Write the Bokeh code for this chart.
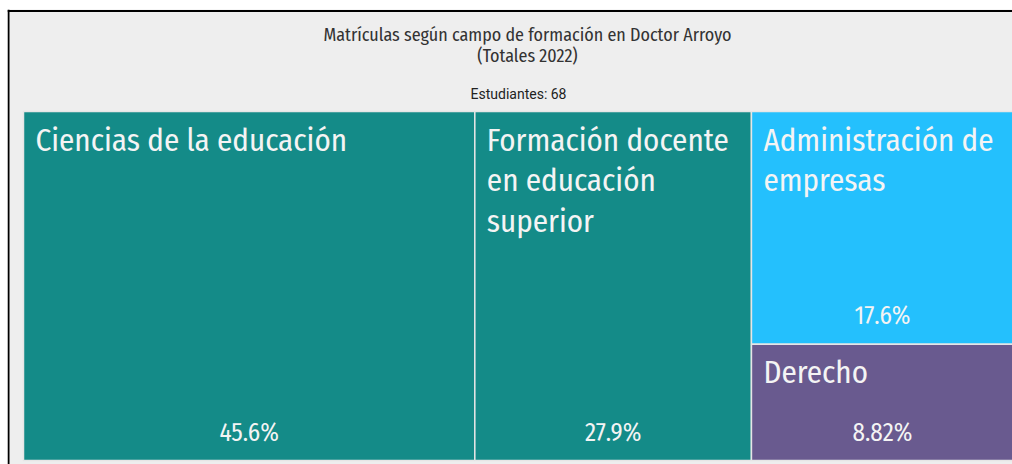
from bokeh.plotting import figure
from bokeh.models import Range1d, Span, ColumnDataSource
from bokeh.core.properties import value
from bokeh.embed import file_html
from bokeh.resources import INLINE

# ---- data ----
categories = ["Ciencias de la educación", "Formación docente\nen educación\nsuperior",
              "Administración de\nempresas", "Derecho"]
students = [31, 19, 12, 6]
colors = ["#148B88", "#148B88", "#24C0FD", "#695A8F"]
title_lines = ["Matrículas según campo de formación en Doctor Arroyo", "(Totales 2022)"]
subtitle = "Estudiantes: %d" % sum(students)

FONT = "Fira Sans Condensed"

# ---- layout area (page pixel coordinates, y downward) ----
X0, Y0, X1, Y1 = 23.0, 111.0, 1013.0, 460.0


def worst(row, w):
    s = sum(row)
    return max(max(w * w * r / (s * s), (s * s) / (w * w * r)) for r in row)


def squarify(vals, x, y, dx, dy):
    total = sum(vals)
    scale = dx * dy / total
    areas = [v * scale for v in vals]
    rects = []
    while areas:
        short = min(dx, dy)
        row = [areas[0]]
        i = 1
        while i < len(areas) and worst(row + [areas[i]], short) <= worst(row, short):
            row.append(areas[i])
            i += 1
        areas = areas[i:]
        s = sum(row)
        if dx >= dy:
            w = s / dy
            cy = y
            for a in row:
                h = a / w
                rects.append((x, cy, x + w, cy + h))
                cy += h
            x += w
            dx -= w
        else:
            h = s / dx
            cx = x
            for a in row:
                w = a / h
                rects.append((cx, y, cx + w, y + h))
                cx += w
            y += h
            dy -= h
    return rects


rects = squarify(students, X0, Y0, X1 - X0, Y1 - Y0)
total = sum(students)
pcts = ["%s%%" % ("%.3g" % (100.0 * v / total)) for v in students]

src = ColumnDataSource(dict(
    left=[r[0] for r in rects], right=[r[2] for r in rects],
    top=[r[1] for r in rects], bottom=[r[3] for r in rects],
    color=colors, label=categories, pct=pcts,
    lx=[r[0] + 12 for r in rects], ly=[r[1] + 10 for r in rects],
    px=[(r[0] + r[2]) / 2 for r in rects], py=[r[3] - 28 for r in rects],
))

p = figure(width=1012, height=464, output_backend="svg", toolbar_location=None,
           x_range=Range1d(7, 1012), y_range=Range1d(464, 9),
           min_border_left=7, min_border_right=0, min_border_top=9, min_border_bottom=0,
           x_axis_location=None, y_axis_location=None)
p.grid.visible = False
p.background_fill_color = "#EEEEEE"
p.border_fill_color = "white"
p.outline_line_color = None

p.quad(left="left", right="right", top="top", bottom="bottom", source=src,
       fill_color="color", line_color="#E6E6E6", line_width=1.5)

p.text(x="lx", y="ly", text="label", source=src, text_color="#F4F4F4",
       text_font=value(FONT), text_font_size="31px", text_baseline="top",
       text_align="left", text_line_height=1.1)
p.text(x="px", y="py", text="pct", source=src, text_color="#F4F4F4",
       text_font=value(FONT), text_font_size="25px", text_baseline="alphabetic",
       text_align="center")

p.text(x=[527, 527], y=[34, 55], text=title_lines, text_color="#333333",
       text_font=value(FONT), text_font_size="18px", text_baseline="middle",
       text_align="center")
p.text(x=[518], y=[93], text=[subtitle], text_color="#222222",
       text_font=value("Roboto"), text_font_size="14px", text_baseline="middle",
       text_align="center")

p.add_layout(Span(location=8, dimension="height", line_color="black", line_width=2))
p.add_layout(Span(location=10.5, dimension="width", line_color="black", line_width=2))

open("out.html", "w").write(file_html(p, INLINE))
